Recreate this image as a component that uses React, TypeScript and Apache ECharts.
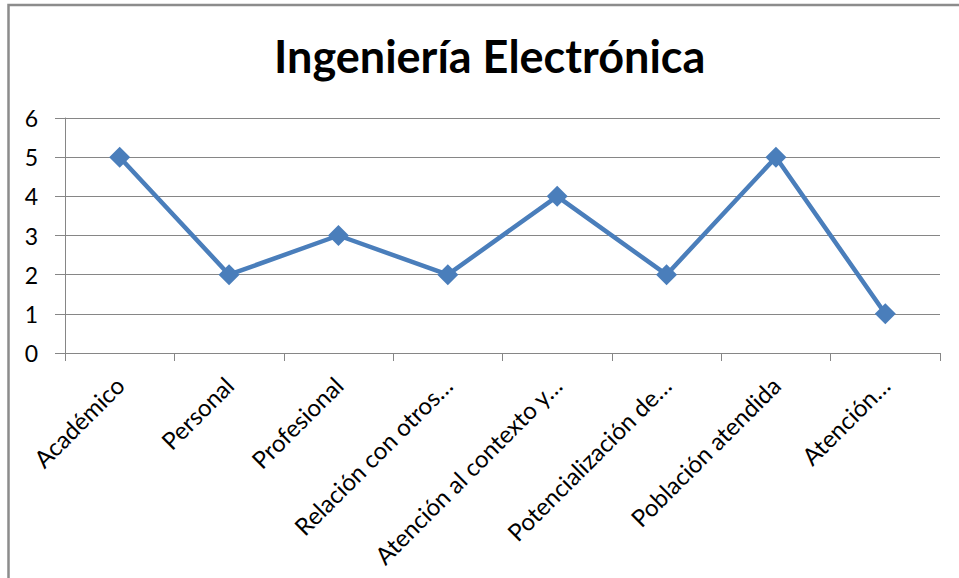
import React, { useEffect, useRef } from "react";
import * as echarts from "echarts";

const titleText = "Ingeniería Electrónica";
const categories = [
  "Académico",
  "Personal",
  "Profesional",
  "Relación con otros…",
  "Atención al contexto y…",
  "Potencialización de…",
  "Población atendida",
  "Atención…",
];
const values = [5, 2, 3, 2, 4, 2, 5, 1];
const yMin = 0;
const yMax = 6;
const yInterval = 1;

export default function App() {
  const ref = useRef<HTMLDivElement>(null);
  useEffect(() => {
    if (!ref.current) return;
    const chart = echarts.init(ref.current, null, { renderer: "svg" });
    const font = "Lato";
    chart.setOption({
      animation: false,
      backgroundColor: "#ffffff",
      title: {
        text: titleText,
        left: 269,
        top: 28,
        textStyle: {
          fontFamily: font,
          fontWeight: "bold",
          fontSize: 45,
          color: "#000000",
        },
      },
      graphic: [
        {
          type: "rect",
          shape: { x: 8.5, y: 5, width: 1100, height: 1100 },
          style: { fill: "none", stroke: "#8c8c8c", lineWidth: 2.5 },
          silent: true,
        },
      ],
      grid: { left: 65, right: 19, top: 118, bottom: 225, containLabel: false },
      xAxis: {
        type: "category",
        data: categories,
        boundaryGap: true,
        axisLine: { show: true, lineStyle: { color: "#868686", width: 1 } },
        axisTick: { show: true, length: 8, lineStyle: { color: "#868686" } },
        axisLabel: {
          rotate: 45,
          interval: 0,
          margin: 28,
          fontFamily: font,
          fontSize: 24,
          color: "#000000",
        },
        splitLine: { show: false },
      },
      yAxis: {
        type: "value",
        min: yMin,
        max: yMax,
        interval: yInterval,
        axisLine: { show: true, lineStyle: { color: "#868686", width: 1 } },
        axisTick: { show: true, length: 10, lineStyle: { color: "#868686" } },
        axisLabel: {
          margin: 27,
          fontFamily: font,
          fontSize: 23,
          color: "#000000",
        },
        splitLine: { show: true, lineStyle: { color: "#868686", width: 1 } },
      },
      series: [
        {
          type: "line",
          data: values,
          symbol: "diamond",
          symbolSize: 21,
          lineStyle: { color: "#4a7ebb", width: 4.5 },
          itemStyle: { color: "#4a7ebb" },
        },
      ],
    });
    return () => chart.dispose();
  }, []);
  return (
    <div
      ref={ref}
      style={{ position: "absolute", left: 0, top: 0, width: 959, height: 578 }}
    />
  );
}
